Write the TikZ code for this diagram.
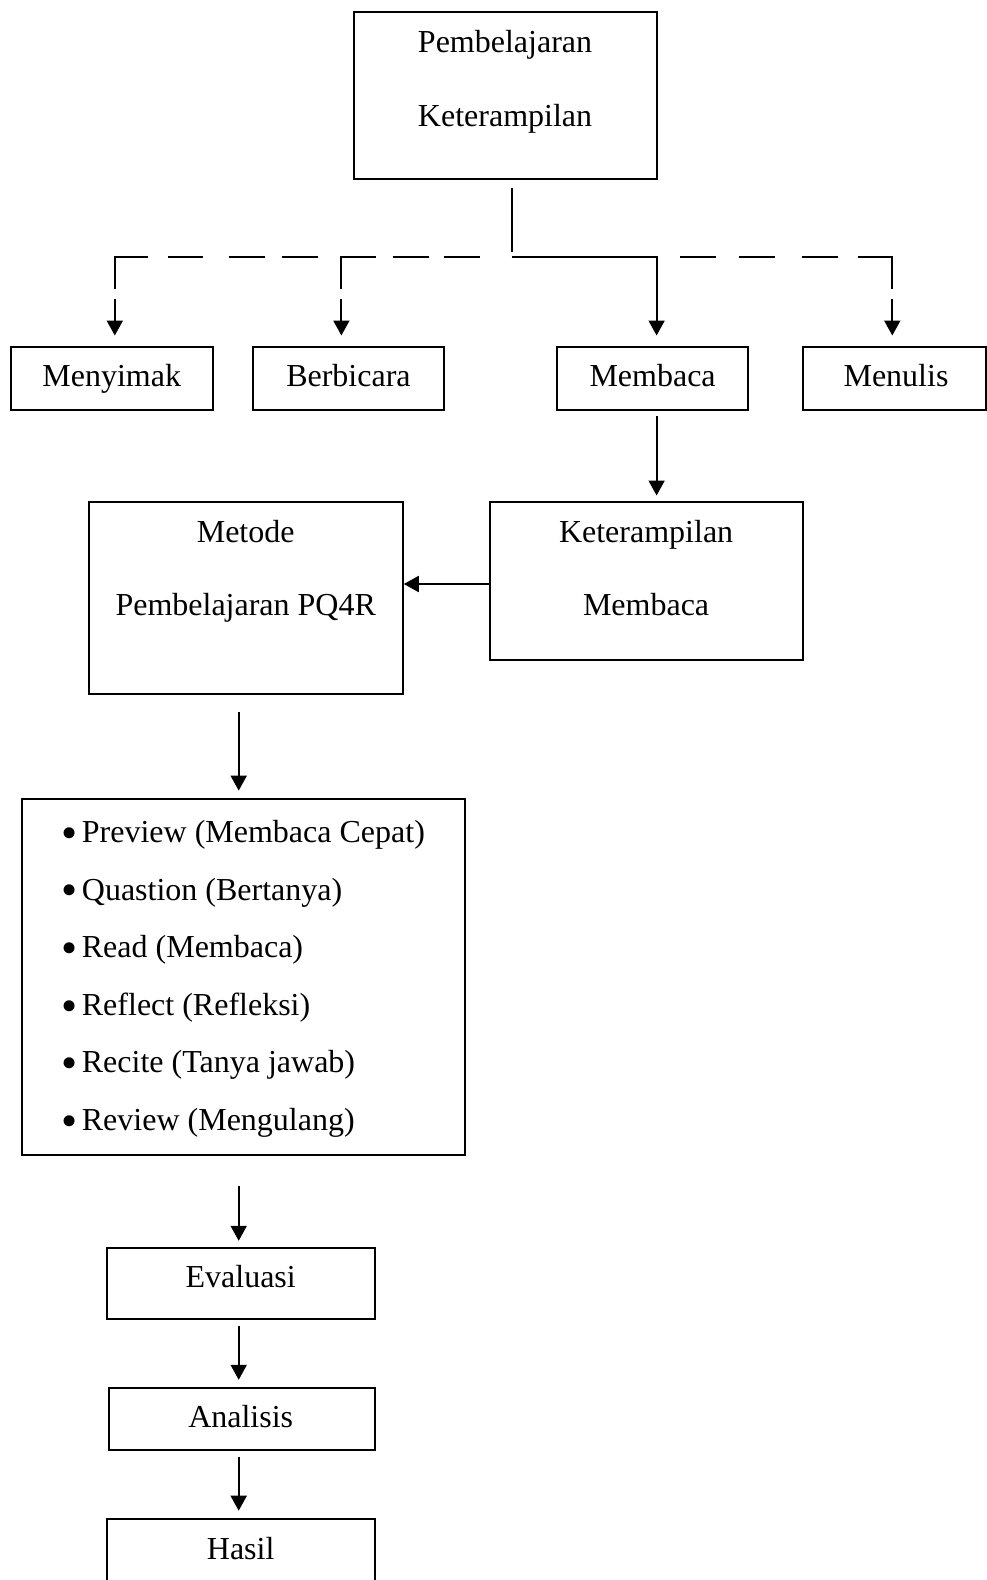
\documentclass[tikz,border=0pt]{standalone}
\usepackage{fontspec}
\setmainfont{Liberation Serif}
\usetikzlibrary{arrows.meta}

\begin{document}
\begin{tikzpicture}[
        x=1pt, y=-1pt,
        box/.style={draw, line width=2pt, inner sep=0pt},
        txt/.style={anchor=base, inner sep=0pt, font=\fontsize{32}{38}\selectfont},
        itemtxt/.style={anchor=base west, inner sep=0pt, font=\fontsize{32}{38}\selectfont},
        bul/.style={anchor=center, inner sep=0pt, font=\fontsize{46}{50}\selectfont},
        line/.style={draw, line width=2pt},
        arr/.style={line, -{Triangle[width=16pt,length=15pt]}, shorten <=6pt, shorten >=7pt},
        branch/.style={arr, shorten <=0pt, shorten >=10pt},
    ]
    \useasboundingbox (0,0) rectangle (987,1580);

    % boxes
    \node[box, minimum width=303.1pt, minimum height=167.3pt] (top) at (505.05,95.65) {};
    \node[box, minimum width=201.5pt, minimum height=63.4pt] (menyimak) at (111.75,378.2) {};
    \node[box, minimum width=191.3pt, minimum height=63.4pt] (berbicara) at (348.45,378.2) {};
    \node[box, minimum width=191.4pt, minimum height=63.4pt] (membaca) at (652.6,378.2) {};
    \node[box, minimum width=183.3pt, minimum height=63.4pt] (menulis) at (894.35,378.2) {};
    \node[box, minimum width=313.2pt, minimum height=158.2pt] (km) at (646.1,580.6) {};
    \node[box, minimum width=314.2pt, minimum height=192.4pt] (metode) at (245.7,597.7) {};
    \node[box, minimum width=443.1pt, minimum height=356.6pt] (list) at (243.75,976.9) {};
    \node[box, minimum width=267.8pt, minimum height=71.5pt] (evaluasi) at (240.7,1283.55) {};
    \node[box, minimum width=265.8pt, minimum height=62.4pt] (analisis) at (241.7,1419) {};
    \node[box, minimum width=267.8pt, minimum height=71.5pt] (hasil) at (240.7,1554.45) {};

    % texts
    \node[txt] (topA) at (505.05,52.7) {Pembelajaran};
    \node[txt] (topB) at (505.05,126) {Keterampilan};
    \node[txt] (menyimakT) at (111.75,386) {Menyimak};
    \node[txt] (berbicaraT) at (348.45,386) {Berbicara};
    \node[txt] (membacaT) at (652.6,386) {Membaca};
    \node[txt] (menulisT) at (896,386) {Menulis};
    \node[txt] (kmA) at (646.1,542.2) {Keterampilan};
    \node[txt] (kmB) at (646.1,615.8) {Membaca};
    \node[txt] (metodeA) at (245.7,542.2) {Metode};
    \node[txt] (metodeB) at (245.7,615.8) {Pembelajaran PQ4R};
    \foreach \t [count=\i from 0] in {Preview (Membaca Cepat), Quastion (Bertanya),
        Read (Membaca), Reflect (Refleksi), Recite (Tanya jawab), Review (Mengulang)} {
        \node[bul] (bul\i) at (69.5,{838+57.6*\i}) {\textbullet};
        \node[itemtxt] (item\i) at (81.7,{842.5+57.6*\i}) {\t};
    }
    \node[txt] (evaluasiT) at (240.7,1287.5) {Evaluasi};
    \node[txt] (analisisT) at (240.7,1427.5) {Analisis};
    \node[txt] (hasilT) at (240.7,1559.3) {Hasil};

    % branching
    \coordinate (stem) at (511.6,251.8);
    \coordinate (hub) at (511.6,256.8);
    \coordinate (cornerC) at (656.6,256.8);
    \coordinate (dropA) at (114.8,289);
    \coordinate (dropB) at (341.4,289);
    \coordinate (dropD) at (892.3,289);
    \coordinate (arrA) at (114.8,299);
    \coordinate (arrB) at (341.4,299);
    \coordinate (arrD) at (892.3,299);
    \coordinate (axis) at (238.7,0);

    \draw[line, shorten <=8pt] (top.south -| stem) -- (stem);
    \draw[line, dash pattern=on 65.6pt off 20.1pt on 34.5pt off 25.9pt on 36pt off 16.9pt on 36pt off 40pt]
        (dropA) |- (dropB |- hub);
    \draw[line, dash pattern=on 66.6pt off 16.9pt on 36pt off 14.8pt on 36.6pt off 40pt]
        (dropB) |- (hub);
    \draw[line, dash pattern=on 66.9pt off 19.6pt on 36pt off 27.5pt on 36pt off 22.5pt on 36pt off 40pt]
        (dropD) |- (cornerC);
    \draw[branch] (hub) -| (membaca.north -| cornerC);
    \draw[branch] (arrA) -- (menyimak.north -| arrA);
    \draw[branch] (arrB) -- (berbicara.north -| arrB);
    \draw[branch] (arrD) -- (menulis.north -| arrD);

    % flow
    \draw[arr, shorten <=5pt, shorten >=5pt] (membaca.south -| cornerC) -- (km.north -| cornerC);
    \draw[arr, shorten <=0pt, shorten >=0pt] ([yshift=-3.4pt]km.west) -- ([yshift=-3.4pt]km.west -| metode.east);
    \draw[arr, shorten <=17pt] (metode.south -| axis) -- (list.north -| axis);
    \draw[arr, shorten <=30pt, shorten >=6pt] (list.south -| axis) -- (evaluasi.north -| axis);
    \draw[arr] (evaluasi.south -| axis) -- (analisis.north -| axis);
    \draw[arr] (analisis.south -| axis) -- (hasil.north -| axis);
\end{tikzpicture}
\end{document}
